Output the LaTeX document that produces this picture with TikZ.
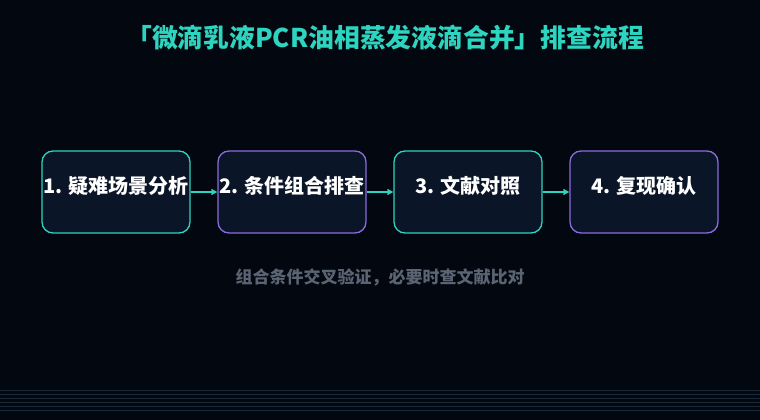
\documentclass[tikz,border=0pt]{standalone}
\usepackage{fontspec}
\setmainfont{Noto Sans CJK SC}
\usetikzlibrary{arrows.meta}
\definecolor{bg}{HTML}{03070F}
\definecolor{teal}{HTML}{2DD4BF}
\definecolor{vio}{HTML}{8B6CE0}
\definecolor{boxf}{HTML}{0B1528}
\definecolor{gr}{HTML}{5B6473}
\definecolor{ln}{HTML}{1A2838}
\begin{document}
\begin{tikzpicture}[x=1pt,y=-1pt,
 box/.style={draw,line width=1.3pt,rounded corners=11pt,fill=boxf,minimum width=148pt,minimum height=82pt,inner sep=0pt},
 lab/.style={text=white,font=\bfseries\fontsize{20}{24}\selectfont},
 arr/.style={-{Triangle[length=6pt,width=6pt]},teal,line width=1.3pt}]
\fill[bg] (0,0) rectangle (760,420);
\useasboundingbox (0,0) rectangle (760,420);
\foreach \y in {390,394,...,410} \draw[ln,line width=0.4pt] (0,\y) -- (760,\y);
\node[text=teal,font=\bfseries\fontsize{25.8}{30}\selectfont] (t) at (385,38) {「微滴乳液PCR油相蒸发液滴合并」排查流程};
\node[box,draw=teal] (b1) at (116,192) {};
\node[box,draw=vio] (b2) at (292,192) {};
\node[box,draw=teal] (b3) at (468,192) {};
\node[box,draw=vio] (b4) at (644,192) {};
\node[lab] (l1) at (116,186) {1. 疑难场景分析};
\node[lab] (l2) at (292,186) {2. 条件组合排查};
\node[lab] (l3) at (468,186) {3. 文献对照};
\node[lab] (l4) at (644,186) {4. 复现确认};
\draw[arr] (b1) -- (b2);
\draw[arr] (b2) -- (b3);
\draw[arr] (b3) -- (b4);
\node[text=gr,font=\bfseries\fontsize{17}{20}\selectfont] (s) at (380,277) {组合条件交叉验证，必要时查文献比对};
\end{tikzpicture}
\end{document}
